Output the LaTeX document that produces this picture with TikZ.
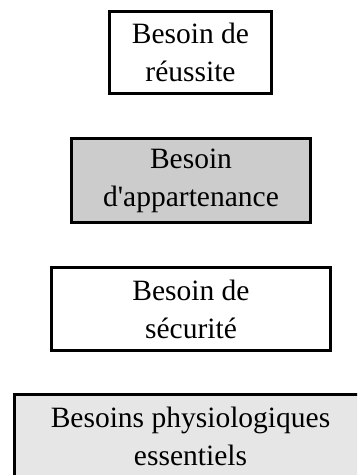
\documentclass[tikz,border=0pt]{standalone}
\usepackage{fontspec}
\setmainfont{Liberation Serif}
\definecolor{midgray}{HTML}{CCCCCC}
\definecolor{lightgray2}{HTML}{E6E6E6}
\tikzset{
  level/.style={draw=black, line width=3pt, inner sep=0pt, align=center,
    font=\fontsize{29.5}{38}\selectfont},
}
\begin{document}
\begin{tikzpicture}[x=1pt,y=1pt]
\useasboundingbox (0,0) rectangle (357,475);
\clip (0,0) rectangle (357,475);
\fill[white] (0,0) rectangle (357,475);
\node[level, fill=white, minimum width=162pt, minimum height=82pt] (reussite) at (190.5,422.5) {Besoin de\\réussite};
\node[level, fill=midgray, minimum width=239pt, minimum height=84pt] (appartenance) at (191,294.5) {Besoin\\d\textquotesingle appartenance};
\node[level, fill=white, minimum width=279pt, minimum height=83pt] (securite) at (191,166) {Besoin de\\sécurité};
\node[level, fill=lightgray2, minimum width=352pt, minimum height=84pt] (physio) at (190.5,38.5) {Besoins physiologiques\\essentiels};
\end{tikzpicture}
\end{document}
